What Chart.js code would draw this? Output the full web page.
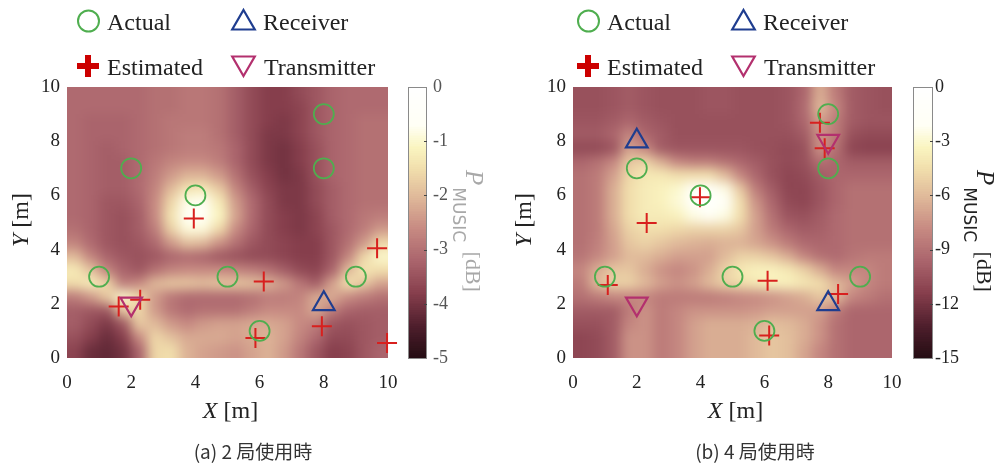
<!DOCTYPE html>
<html>
<head>
<meta charset="utf-8">
<script src="https://cdn.jsdelivr.net/npm/chart.js@4.4.1/dist/chart.umd.min.js"></script>
<style>
  html, body { margin: 0; padding: 0; background: #fff; }
  #wrap { position: relative; width: 1000px; height: 472px; overflow: hidden; }
  .pane { position: absolute; top: 0; width: 500px; height: 472px; }
</style>
</head>
<body>
<div id="wrap">
  <div class="pane" style="left:0"><canvas id="panelA" width="500" height="472"></canvas></div>
  <div class="pane" style="left:500px"><canvas id="panelB" width="500" height="472"></canvas></div>
</div>
<script>
// ---- grid of the MUSIC spectrum (cell centres, metres) ----
const cellX = [0.25, 0.75, 1.25, 1.75, 2.25, 2.75, 3.25, 3.75, 4.25, 4.75,
               5.25, 5.75, 6.25, 6.75, 7.25, 7.75, 8.25, 8.75, 9.25, 9.75];
const cellY = [9.75, 9.25, 8.75, 8.25, 7.75, 7.25, 6.75, 6.25, 5.75, 5.25,
               4.75, 4.25, 3.75, 3.25, 2.75, 2.25, 1.75, 1.25, 0.75, 0.25];
const cellSize = 0.5;

// P_MUSIC [dB], two stations (rows follow cellY, columns follow cellX)
const heatA = [
  [-3.1,-3.1,-3.1,-3.1,-3.1,-3.0,-3.0,-2.9,-2.9,-3.0,-3.3,-3.6,-3.8,-3.8,-3.6,-3.4,-3.2,-3.1,-3.1,-3.1],
  [-3.1,-3.1,-3.1,-3.1,-3.1,-3.0,-3.0,-2.9,-2.9,-3.0,-3.3,-3.6,-3.8,-3.8,-3.7,-3.4,-3.2,-3.1,-3.1,-3.1],
  [-3.1,-3.2,-3.2,-3.2,-3.1,-3.0,-2.9,-2.9,-2.9,-3.0,-3.3,-3.6,-3.8,-3.9,-3.7,-3.4,-3.2,-3.1,-3.0,-3.0],
  [-3.1,-3.2,-3.2,-3.2,-3.1,-3.0,-2.9,-2.8,-2.8,-3.0,-3.3,-3.6,-3.9,-3.9,-3.7,-3.4,-3.2,-3.1,-3.0,-3.0],
  [-3.1,-3.2,-3.3,-3.2,-3.1,-3.0,-2.9,-2.8,-2.8,-2.9,-3.2,-3.6,-3.9,-4.0,-3.8,-3.5,-3.2,-3.1,-3.0,-3.0],
  [-3.1,-3.2,-3.3,-3.3,-3.1,-2.9,-2.7,-2.6,-2.6,-2.8,-3.2,-3.6,-3.9,-4.0,-3.8,-3.5,-3.2,-3.1,-3.0,-3.0],
  [-3.1,-3.2,-3.3,-3.3,-3.1,-2.8,-2.4,-2.1,-2.1,-2.4,-3.0,-3.5,-3.8,-4.0,-3.9,-3.5,-3.2,-3.1,-3.0,-3.0],
  [-3.1,-3.2,-3.3,-3.3,-3.1,-2.7,-2.0,-1.4,-1.3,-1.8,-2.7,-3.3,-3.7,-3.9,-3.9,-3.6,-3.3,-3.1,-3.0,-3.0],
  [-3.1,-3.2,-3.4,-3.4,-3.2,-2.6,-1.6,-0.8,-0.7,-1.3,-2.4,-3.1,-3.6,-3.9,-3.9,-3.6,-3.3,-3.1,-3.0,-3.0],
  [-3.1,-3.2,-3.4,-3.5,-3.3,-2.6,-1.4,-0.5,-0.5,-1.1,-2.3,-3.1,-3.6,-3.8,-3.9,-3.7,-3.3,-3.1,-2.9,-2.8],
  [-3.0,-3.2,-3.4,-3.5,-3.3,-2.8,-1.7,-0.9,-0.9,-1.6,-2.6,-3.2,-3.6,-3.8,-3.9,-3.7,-3.4,-3.1,-2.8,-2.4],
  [-2.7,-3.1,-3.4,-3.5,-3.4,-3.1,-2.4,-1.9,-2.0,-2.5,-3.0,-3.4,-3.6,-3.7,-3.8,-3.8,-3.4,-3.0,-2.4,-1.6],
  [-2.0,-2.7,-3.2,-3.4,-3.5,-3.4,-3.2,-3.1,-3.2,-3.4,-3.5,-3.6,-3.6,-3.7,-3.8,-3.8,-3.4,-2.7,-1.6,-1.0],
  [-1.3,-1.9,-2.7,-3.2,-3.4,-3.0,-2.7,-2.6,-2.6,-2.6,-2.7,-2.8,-3.0,-3.3,-3.6,-3.7,-3.2,-2.0,-1.4,-1.5],
  [-1.5,-1.2,-1.6,-2.8,-2.6,-2.0,-1.8,-1.8,-1.9,-1.8,-1.8,-1.9,-2.1,-2.4,-2.9,-3.3,-2.3,-1.4,-1.8,-2.3],
  [-2.8,-2.4,-1.8,-1.0,-1.6,-2.4,-2.9,-3.1,-3.1,-3.1,-3.1,-3.0,-2.8,-2.8,-2.7,-2.2,-2.2,-2.6,-2.8,-3.0],
  [-3.3,-3.4,-3.4,-1.8,-1.6,-2.4,-2.9,-3.1,-3.0,-3.0,-3.0,-2.8,-2.6,-2.6,-2.6,-2.2,-2.8,-3.2,-3.3,-3.3],
  [-3.3,-3.6,-3.9,-3.4,-1.8,-2.0,-2.4,-2.6,-2.4,-2.3,-2.3,-2.2,-2.2,-2.3,-2.6,-2.8,-3.4,-3.5,-3.4,-3.3],
  [-3.5,-3.8,-4.1,-3.8,-2.6,-1.6,-1.9,-2.2,-2.2,-2.2,-2.3,-2.2,-2.1,-2.3,-2.7,-3.1,-3.6,-3.6,-3.4,-3.3],
  [-3.7,-4.1,-4.2,-4.0,-3.2,-1.6,-1.5,-2.1,-2.3,-2.4,-2.5,-2.3,-2.1,-2.4,-2.9,-3.4,-3.8,-3.7,-3.4,-3.2]
];

// P_MUSIC [dB], four stations
const heatB = [
  [-10.5,-10.5,-10.3,-10.0,-10.3,-10.5,-10.5,-10.5,-10.3,-10.3,-10.5,-10.5,-10.5,-10.3,-9.5,-6.5,-8.5,-10.0,-10.3,-10.5],
  [-10.5,-10.5,-10.3,-10.0,-10.3,-10.5,-10.5,-10.5,-10.3,-10.3,-10.5,-10.5,-10.5,-10.3,-9.3,-6.0,-8.0,-10.0,-10.3,-10.5],
  [-10.3,-10.3,-10.0,-9.5,-10.0,-10.3,-10.5,-10.5,-10.5,-10.5,-10.5,-10.5,-10.5,-10.3,-9.5,-7.0,-8.5,-10.0,-10.3,-10.3],
  [-10.0,-10.0,-9.5,-8.0,-9.5,-10.0,-10.5,-10.5,-10.5,-10.5,-10.5,-10.5,-10.5,-10.5,-10.0,-7.5,-8.5,-10.5,-10.8,-10.8],
  [-10.8,-10.8,-10.3,-7.0,-8.0,-10.0,-10.3,-10.3,-10.3,-10.3,-10.3,-10.5,-10.6,-10.8,-10.5,-7.5,-9.0,-11.0,-11.2,-11.2],
  [-9.5,-9.0,-8.0,-5.5,-5.0,-6.5,-8.0,-8.5,-8.5,-9.0,-9.5,-10.0,-10.5,-10.8,-10.5,-9.0,-9.5,-10.0,-10.0,-10.0],
  [-9.0,-8.5,-7.0,-4.8,-4.0,-4.0,-4.5,-4.5,-4.5,-6.0,-8.0,-9.5,-10.5,-11.0,-10.8,-10.0,-9.5,-9.5,-9.5,-9.5],
  [-9.0,-8.5,-6.5,-4.5,-3.8,-3.5,-3.0,-1.5,-1.0,-2.5,-5.5,-8.5,-10.0,-11.0,-11.0,-10.3,-9.5,-9.0,-9.0,-9.0],
  [-9.0,-8.5,-6.5,-4.5,-3.8,-3.5,-2.8,-0.8,-0.5,-1.5,-4.5,-7.5,-9.5,-10.8,-11.0,-10.3,-9.5,-9.0,-9.0,-9.0],
  [-9.0,-8.5,-6.5,-4.5,-3.8,-3.8,-3.5,-2.5,-2.0,-2.5,-4.5,-7.0,-9.0,-10.3,-10.5,-10.0,-9.3,-9.0,-9.0,-9.0],
  [-9.0,-8.5,-6.8,-5.0,-4.5,-4.5,-4.8,-5.0,-5.0,-5.0,-5.5,-7.0,-8.5,-9.5,-10.0,-9.8,-9.3,-9.0,-9.0,-9.0],
  [-9.0,-8.3,-7.0,-5.5,-5.0,-5.5,-6.0,-6.3,-6.5,-6.3,-6.3,-6.8,-7.5,-8.5,-9.3,-9.5,-9.3,-9.0,-9.0,-9.0],
  [-8.8,-8.0,-7.0,-6.0,-6.0,-6.5,-7.0,-7.0,-7.0,-6.0,-5.0,-5.0,-5.5,-6.5,-8.0,-9.0,-9.3,-8.8,-8.5,-8.5],
  [-8.0,-6.5,-5.5,-5.5,-6.5,-7.5,-8.0,-7.5,-6.5,-5.0,-4.0,-3.5,-3.5,-4.0,-5.0,-6.5,-8.0,-8.0,-8.0,-8.5],
  [-8.5,-6.0,-5.0,-5.0,-6.0,-7.0,-7.5,-7.0,-6.0,-5.0,-4.5,-4.0,-3.5,-3.5,-4.0,-4.5,-6.0,-7.0,-8.0,-8.5],
  [-9.0,-8.5,-8.0,-8.0,-8.0,-8.5,-8.5,-8.5,-8.5,-8.3,-8.0,-7.8,-7.5,-7.0,-6.5,-5.5,-6.0,-8.0,-8.5,-9.0],
  [-10.0,-10.0,-10.0,-8.5,-7.5,-8.5,-8.0,-7.5,-7.5,-7.5,-7.5,-7.3,-7.0,-7.0,-7.0,-7.0,-8.5,-9.5,-9.5,-9.5],
  [-10.5,-10.5,-10.0,-8.0,-7.5,-8.5,-8.0,-7.0,-6.5,-6.5,-6.5,-6.3,-5.8,-6.0,-6.5,-7.5,-9.0,-9.5,-9.5,-9.5],
  [-11.0,-10.8,-10.0,-7.5,-7.5,-8.5,-8.0,-7.0,-6.5,-6.5,-6.5,-6.0,-5.5,-5.8,-6.5,-7.5,-9.0,-9.5,-9.5,-9.5],
  [-11.0,-10.8,-10.0,-7.5,-7.5,-8.5,-8.0,-7.0,-6.5,-6.5,-6.5,-6.0,-5.5,-5.8,-6.8,-8.0,-9.0,-9.5,-9.5,-9.5]
];

// ---- positions [x, y] in metres ----
const actualA      = [[2,7],[4,6],[8,9],[8,7],[1,3],[5,3],[9,3],[6,1]];
const estimatedA   = [[3.95,5.15],[9.66,4.05],[6.13,2.82],[2.28,2.15],[1.61,1.9],[7.94,1.17],[5.87,0.74],[9.97,0.55]];
const receiverA    = [[8,2]];
const transmitterA = [[2,2]];

const actualB      = [[8,9],[8,7],[2,7],[4,6],[1,3],[5,3],[9,3],[6,1]];
const estimatedB   = [[7.74,8.68],[7.89,7.74],[3.98,5.93],[2.31,4.98],[1.09,2.69],[6.1,2.85],[8.31,2.36],[6.15,0.83]];
const receiverB    = [[2,8],[8,2]];
const transmitterB = [[2,2],[8,8]];

// colour bar ranges and tick steps
const rangeA = [-5, 0], stepA = 1;
const rangeB = [-15, 0], stepB = 3;

const legendNames = ['Actual', 'Receiver', 'Estimated', 'Transmitter'];
const captionA = '(a) 2 局使用時';
const captionB = '(b) 4 局使用時';

// ---- colour map (dark maroon -> pink -> cream -> white) ----
const cmapStops = [
  [0.00, 35, 12, 18], [0.12, 78, 30, 44], [0.24, 134, 62, 76], [0.36, 170, 100, 108],
  [0.48, 199, 138, 130], [0.60, 224, 186, 154], [0.70, 241, 222, 172], [0.78, 250, 245, 192],
  [0.86, 255, 255, 245], [1.00, 255, 255, 255]
];
function cmap(f) {
  f = Math.max(0, Math.min(1, f));
  for (let i = 1; i < cmapStops.length; i++) {
    const a = cmapStops[i - 1], b = cmapStops[i];
    if (f <= b[0]) {
      const t = (f - a[0]) / (b[0] - a[0]);
      const c = [1, 2, 3].map(k => Math.round(a[k] + (b[k] - a[k]) * t));
      return `rgb(${c[0]},${c[1]},${c[2]})`;
    }
  }
  return 'rgb(255,255,255)';
}

const SERIF = '"Liberation Serif", "DejaVu Serif", serif';
const COL = { actual: '#4fae4f', rx: '#1f3d8f', est: '#d8201e', tx: '#b3306e', text: '#222' };

const toPts = arr => arr.map(p => ({ x: p[0], y: p[1] }));

// heat map painted under the markers: cells placed through the chart scales
// on a layer, which is then softened as a whole
const heatPlugin = {
  id: 'heat',
  beforeDatasetsDraw(chart, args, opts) {
    const { ctx, chartArea: ca, scales } = chart;
    const xs = scales.x, ys = scales.y;
    const grid = opts.grid, lo = opts.range[0], hi = opts.range[1];
    const layer = document.createElement('canvas');
    layer.width = chart.width;
    layer.height = chart.height;
    const lc = layer.getContext('2d');
    const pad = 16;
    for (let r = 0; r < cellY.length; r++) {
      for (let c = 0; c < cellX.length; c++) {
        let x0 = xs.getPixelForValue(cellX[c] - cellSize / 2);
        let x1 = xs.getPixelForValue(cellX[c] + cellSize / 2);
        let y0 = ys.getPixelForValue(cellY[r] + cellSize / 2);
        let y1 = ys.getPixelForValue(cellY[r] - cellSize / 2);
        if (c === 0) x0 -= pad;
        if (c === cellX.length - 1) x1 += pad;
        if (r === 0) y0 -= pad;
        if (r === cellY.length - 1) y1 += pad;
        lc.fillStyle = cmap((grid[r][c] - lo) / (hi - lo));
        lc.fillRect(Math.round(x0), Math.round(y0), Math.round(x1) - Math.round(x0), Math.round(y1) - Math.round(y0));
      }
    }
    ctx.save();
    ctx.beginPath();
    ctx.rect(ca.left, ca.top, ca.right - ca.left, ca.bottom - ca.top);
    ctx.clip();
    ctx.filter = 'blur(6px)';
    ctx.drawImage(layer, 0, 0);
    ctx.restore();
  }
};

function drawTri(ctx, x, y, r, down) {
  ctx.beginPath();
  const s = down ? -1 : 1;
  ctx.moveTo(x, y - s * r);
  ctx.lineTo(x + r * Math.sin(Math.PI * 2 / 3), y + s * r / 2);
  ctx.lineTo(x - r * Math.sin(Math.PI * 2 / 3), y + s * r / 2);
  ctx.closePath();
  ctx.stroke();
}

// colour bar, axis titles, legend and caption
const decorPlugin = {
  id: 'decor',
  afterDraw(chart, args, o) {
    const { ctx, chartArea: ca, scales } = chart;
    const cs = scales.c;
    ctx.save();

    // colour bar
    const bx = ca.right + o.barOffset, bw = o.barWidth;
    const lo = cs.min, hi = cs.max, N = 150;
    for (let i = 0; i < N; i++) {
      const v0 = lo + (hi - lo) * i / N, v1 = lo + (hi - lo) * (i + 1) / N;
      const y0 = cs.getPixelForValue(v1), y1 = cs.getPixelForValue(v0);
      ctx.fillStyle = cmap(((v0 + v1) / 2 - lo) / (hi - lo));
      ctx.fillRect(bx, Math.floor(y0), bw, Math.ceil(y1 - y0) + 1);
    }
    ctx.strokeStyle = '#8a8a8a';
    ctx.lineWidth = 1;
    const top = cs.getPixelForValue(hi), bot = cs.getPixelForValue(lo);
    ctx.strokeRect(bx + 0.5, top + 0.5, bw - 1, bot - top);
    ctx.strokeStyle = '#444';
    cs.ticks.forEach(t => {
      if (t.value === hi || t.value === lo) return;
      const y = Math.round(cs.getPixelForValue(t.value)) + 0.5;
      ctx.beginPath();
      ctx.moveTo(bx + bw - 3, y);
      ctx.lineTo(bx + bw, y);
      ctx.stroke();
    });

    // colour bar title  P_MUSIC [dB]
    ctx.save();
    ctx.fillStyle = o.barTitleColor;
    ctx.translate(o.barTitleX, o.barTitleY);
    ctx.rotate(Math.PI / 2);
    ctx.textBaseline = 'alphabetic';
    ctx.textAlign = 'left';
    ctx.font = 'italic 25px ' + SERIF;
    ctx.fillText('P', 0, 0);
    let w = ctx.measureText('P').width;
    ctx.font = '17px "DejaVu Sans", sans-serif';
    ctx.fillText('MUSIC', w + 2, 13);
    w += 2 + ctx.measureText('MUSIC').width;
    ctx.font = '22px ' + SERIF;
    ctx.fillText(' [dB]', w + 4, 0);
    ctx.restore();

    // X [m]
    ctx.fillStyle = COL.text;
    ctx.textBaseline = 'middle';
    ctx.font = 'italic 24px ' + SERIF;
    const wX = ctx.measureText('X').width;
    ctx.font = '24px ' + SERIF;
    const wM = ctx.measureText(' [m]').width;
    const cx = (ca.left + ca.right) / 2 + 3 - (wX + wM) / 2;
    ctx.textAlign = 'left';
    ctx.font = 'italic 24px ' + SERIF;
    ctx.fillText('X', cx, 412);
    ctx.font = '24px ' + SERIF;
    ctx.fillText(' [m]', cx + wX, 412);

    // Y [m]
    ctx.save();
    ctx.translate(o.yTitleX, 220);
    ctx.rotate(-Math.PI / 2);
    ctx.font = 'italic 24px ' + SERIF;
    const wY = ctx.measureText('Y').width;
    const sx = -(wY + wM) / 2;
    ctx.fillText('Y', sx, 0);
    ctx.font = '24px ' + SERIF;
    ctx.fillText(' [m]', sx + wY, 0);
    ctx.restore();

    // legend
    ctx.lineWidth = 2;
    ctx.strokeStyle = COL.actual;
    ctx.beginPath();
    ctx.arc(88.5, 21, 10.5, 0, Math.PI * 2);
    ctx.stroke();
    ctx.strokeStyle = COL.rx;
    ctx.lineWidth = 2.2;
    drawTri(ctx, 243.5, 23, 13, false);
    ctx.strokeStyle = COL.tx;
    drawTri(ctx, 243.5, 63, 13, true);
    ctx.strokeStyle = '#cc0000';
    ctx.lineWidth = 6;
    ctx.beginPath();
    ctx.moveTo(77, 66); ctx.lineTo(99, 66);
    ctx.moveTo(88, 55); ctx.lineTo(88, 77);
    ctx.stroke();
    ctx.fillStyle = COL.text;
    ctx.font = '24px ' + SERIF;
    ctx.textBaseline = 'alphabetic';
    ctx.fillText(legendNames[0], 107, 30);
    ctx.fillText(legendNames[1], 263, 30);
    ctx.fillText(legendNames[2], 107, 75);
    ctx.fillText(legendNames[3], 264, 75);

    // caption
    ctx.font = '19px "Noto Sans CJK JP", sans-serif';
    ctx.fillStyle = '#333';
    ctx.textAlign = 'center';
    ctx.textBaseline = 'middle';
    ctx.fillText(o.caption, o.captionX, 452);

    ctx.restore();
  }
};

function makePanel(id, cfg) {
  const tickFont = { family: SERIF, size: 19 };
  return new Chart(document.getElementById(id), {
    type: 'scatter',
    data: {
      datasets: [
        { label: legendNames[0], data: toPts(cfg.actual), pointStyle: 'circle', pointRadius: 10,
          borderColor: COL.actual, backgroundColor: 'rgba(0,0,0,0)', borderWidth: 1.8, clip: false },
        { label: legendNames[1], data: toPts(cfg.rx), pointStyle: 'triangle', pointRadius: 12.5,
          borderColor: COL.rx, backgroundColor: 'rgba(0,0,0,0)', borderWidth: 2.2, clip: false },
        { label: legendNames[3], data: toPts(cfg.tx), pointStyle: 'triangle', rotation: 180, pointRadius: 12.5,
          borderColor: COL.tx, backgroundColor: 'rgba(0,0,0,0)', borderWidth: 2.2, clip: false },
        { label: legendNames[2], data: toPts(cfg.est), pointStyle: 'cross', pointRadius: 10,
          borderColor: COL.est, backgroundColor: COL.est, borderWidth: 2, clip: false }
      ]
    },
    options: {
      responsive: false,
      animation: false,
      events: [],
      layout: { padding: { left: cfg.padLeft, right: cfg.padRight, top: 87, bottom: 74 } },
      plugins: {
        legend: { display: false },
        tooltip: { enabled: false },
        heat: { grid: cfg.grid, range: cfg.range },
        decor: cfg.decor
      },
      scales: {
        x: {
          type: 'linear', min: 0, max: 10,
          grid: { display: false, drawTicks: false }, border: { display: false },
          ticks: { stepSize: 2, padding: 14, font: tickFont, color: COL.text },
          afterFit(s) { s.height = 40; }
        },
        y: {
          type: 'linear', position: 'left', min: 0, max: 10,
          grid: { display: false, drawTicks: false }, border: { display: false },
          ticks: { stepSize: 2, padding: 7, font: tickFont, color: COL.text },
          afterFit(s) { s.width = 50; }
        },
        c: {
          type: 'linear', position: 'right', min: cfg.range[0], max: cfg.range[1],
          grid: { display: false, drawTicks: false }, border: { display: false },
          ticks: { stepSize: cfg.step, padding: cfg.barLabelPad, font: { family: SERIF, size: 18 }, color: cfg.barLabelColor },
          afterFit(s) { s.width = 90; }
        }
      }
    },
    plugins: [heatPlugin, decorPlugin]
  });
}

makePanel('panelA', {
  grid: heatA, range: rangeA, step: stepA,
  actual: actualA, est: estimatedA, rx: receiverA, tx: transmitterA,
  padLeft: 17, padRight: 22, barLabelPad: 45, barLabelColor: '#555',
  decor: { barOffset: 20, barWidth: 19, barTitleX: 466, barTitleY: 170, barTitleColor: '#a8a8a8',
           yTitleX: 22, caption: captionA, captionX: 253 }
});

makePanel('panelB', {
  grid: heatB, range: rangeB, step: stepB,
  actual: actualB, est: estimatedB, rx: receiverB, tx: transmitterB,
  padLeft: 23, padRight: 18, barLabelPad: 43, barLabelColor: '#222',
  decor: { barOffset: 21, barWidth: 20, barTitleX: 477, barTitleY: 170, barTitleColor: '#222',
           yTitleX: 25, caption: captionB, captionX: 255 }
});
</script>
</body>
</html>
